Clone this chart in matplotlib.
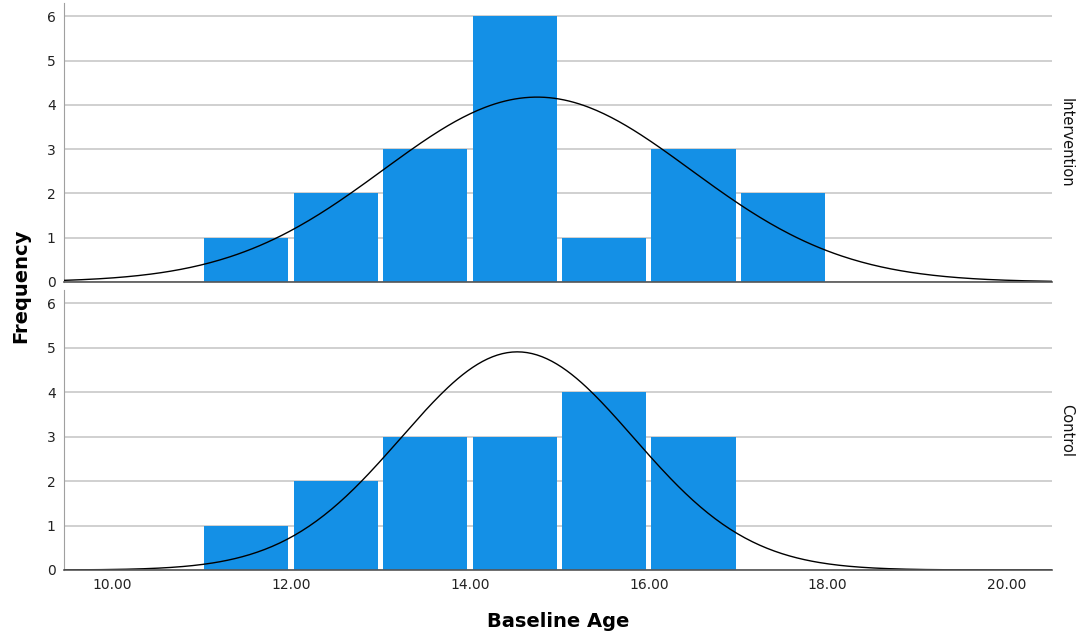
import numpy as np
import matplotlib
matplotlib.use('Agg')
import matplotlib.pyplot as plt

# histogram bins (baseline age, width 1)
bin_edges = [11, 12, 13, 14, 15, 16, 17, 18]
intervention_counts = [1, 2, 3, 6, 1, 3, 2]
control_counts = [1, 2, 3, 3, 4, 3, 0]

# fitted normal curve parameters per group
intervention_fit = dict(n=18, mean=14.75, sd=1.72)
control_fit = dict(n=16, mean=14.53, sd=1.30)

groups = ['Intervention', 'Control']
x_ticks = [10, 12, 14, 16, 18, 20]

bar_color = '#1490e6'
grid_color = '#c8c8c8'

def normal_curve(x, n, mean, sd, width=1.0):
    return n * width / (sd * np.sqrt(2 * np.pi)) * np.exp(-0.5 * ((x - mean) / sd) ** 2)

fig = plt.figure(figsize=(10.78, 6.39), dpi=100)
ax_top = fig.add_axes([0.0594, 0.5587, 0.9165, 0.4366])
ax_bot = fig.add_axes([0.0594, 0.108, 0.9165, 0.438])

xx = np.linspace(9.46, 20.51, 400)
left_edges = np.array(bin_edges[:-1]) + 0.03

for ax, counts, fit, name in [(ax_top, intervention_counts, intervention_fit, groups[0]),
                              (ax_bot, control_counts, control_fit, groups[1])]:
    ax.set_axisbelow(True)
    ax.bar(left_edges, counts, width=0.94, align='edge', color=bar_color,
           linewidth=0, zorder=2)
    ax.plot(xx, normal_curve(xx, **fit), color='black', linewidth=1.0, zorder=3)
    ax.set_xlim(9.46, 20.51)
    ax.set_ylim(0, 6.3)
    ax.set_yticks(range(7))
    ax.yaxis.grid(True, color=grid_color, linewidth=1.2)
    for s in ['top', 'right']:
        ax.spines[s].set_visible(False)
    ax.spines['left'].set_color('#a0a0a0')
    ax.spines['bottom'].set_color('#555555')
    ax.spines['bottom'].set_linewidth(1.2)
    ax.spines['bottom'].set_zorder(4)
    ax.tick_params(axis='both', length=0, labelsize=10, colors='#222222', pad=6)
    ax.set_xticks(x_ticks)
    ax.text(1.007, 0.5, name, transform=ax.transAxes, rotation=270,
            ha='left', va='center', fontsize=10.5, color='#111111')

ax_top.tick_params(axis='x', labelbottom=False)
ax_bot.set_xticklabels(['{:.2f}'.format(v) for v in x_ticks])

fig.text(0.019, 0.553, 'Frequency', rotation=90, ha='center', va='center',
         fontsize=14, fontweight='bold')
fig.text(0.518, 0.028, 'Baseline Age', ha='center', va='center',
         fontsize=14, fontweight='bold')

fig.savefig('out.png', dpi=100)
